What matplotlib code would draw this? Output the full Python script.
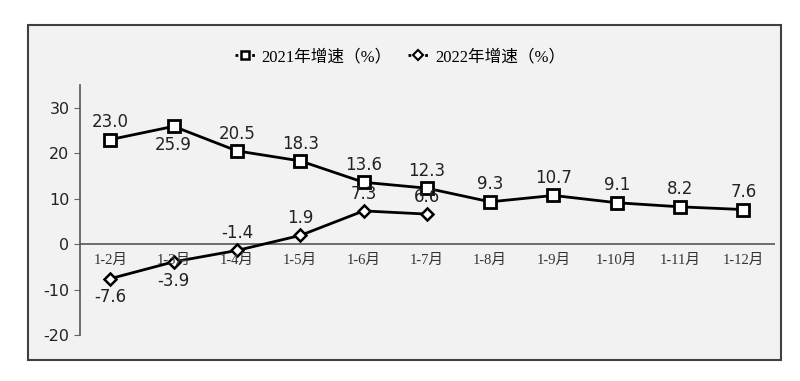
import matplotlib.pyplot as plt
from matplotlib.patches import Rectangle
from matplotlib.lines import Line2D

months = ['1-2月', '1-3月', '1-4月', '1-5月', '1-6月', '1-7月',
          '1-8月', '1-9月', '1-10月', '1-11月', '1-12月']
growth_2021 = [23.0, 25.9, 20.5, 18.3, 13.6, 12.3, 9.3, 10.7, 9.1, 8.2, 7.6]
growth_2022 = [-7.6, -3.9, -1.4, 1.9, 7.3, 6.6]
label_below_2021 = [False, True, False, False, False, False, False, False, False, False, False]
label_below_2022 = [True, True, False, False, False, False]
yticks = [-20, -10, 0, 10, 20, 30]

plt.rcParams['axes.unicode_minus'] = False
cjk_serif = ['Liberation Serif', 'Noto Sans CJK SC']

fig = plt.figure(figsize=(8, 3.81), dpi=100)
fig.patch.set_facecolor('white')

# outer framed panel
fig.patches.append(Rectangle((28 / 800, 1 - 360 / 381), 753 / 800, 335 / 381,
                             transform=fig.transFigure, facecolor='#f2f2f2',
                             edgecolor='#404040', linewidth=1.5, zorder=-5))

ax = fig.add_axes([80 / 800, 1 - 335 / 381, 695 / 800, 250 / 381])
ax.set_facecolor('none')
ax.set_zorder(2)

x = list(range(len(months)))
ax.plot(x, growth_2021, color='black', linewidth=2, marker='s', markersize=8,
        markerfacecolor='white', markeredgecolor='black', markeredgewidth=2, zorder=3)
ax.plot(x[:len(growth_2022)], growth_2022, color='black', linewidth=2, marker='D',
        markersize=6, markerfacecolor='white', markeredgecolor='black',
        markeredgewidth=1.8, zorder=3)

for xi, v, below in zip(x, growth_2021, label_below_2021):
    ax.annotate(f'{v:.1f}', (xi, v), xytext=(0, -7 if below else 6),
                textcoords='offset points', ha='center',
                va='top' if below else 'bottom', fontsize=12, color='#222222')
for xi, v, below in zip(x, growth_2022, label_below_2022):
    ax.annotate(f'{v:.1f}', (xi, v), xytext=(0, -7 if below else 6),
                textcoords='offset points', ha='center',
                va='top' if below else 'bottom', fontsize=12, color='#222222')

# category labels sit just under the zero line
for xi, m in zip(x, months):
    ax.annotate(m, (xi, 0), xytext=(0, -7), textcoords='offset points',
                ha='center', va='top', fontsize=10.5, color='#333333', family=cjk_serif)

ax.axhline(0, color='#555555', linewidth=1.2, zorder=1)
ax.set_xlim(-0.48, 10.5)
ax.set_ylim(-20, 35)
ax.set_yticks(yticks)
ax.set_xticks([])
ax.tick_params(axis='y', length=4, color='#666666', labelsize=11.5, labelcolor='#222222')
for s in ['top', 'right', 'bottom']:
    ax.spines[s].set_visible(False)
ax.spines['left'].set_color('#555555')
ax.spines['left'].set_linewidth(1.2)

handles = [
    Line2D([], [], color='black', linewidth=2, linestyle=(0, (1, 1)), marker='s',
           markersize=5.5, markerfacecolor='white', markeredgewidth=1.8),
    Line2D([], [], color='black', linewidth=2, linestyle=(0, (1, 1)), marker='D',
           markersize=5, markerfacecolor='white', markeredgewidth=1.5),
]
leg = fig.legend(handles, ['2021年增速（%）', '2022年增速（%）'], loc='center',
                 bbox_to_anchor=(400 / 800, 1 - 57 / 381), ncol=2, frameon=False,
                 handlelength=1.2, columnspacing=1.0, handletextpad=0.4,
                 prop={'family': cjk_serif, 'size': 12})
leg.set_zorder(3)

fig.savefig('out.png', dpi=100)
